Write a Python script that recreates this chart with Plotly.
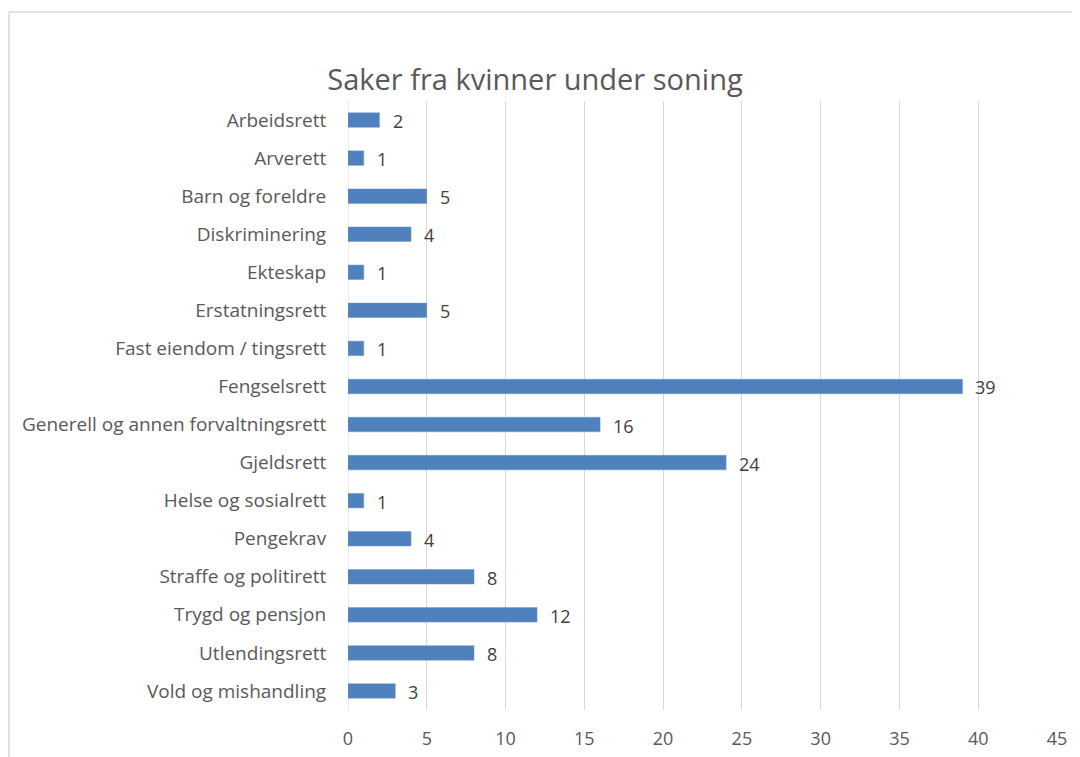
import plotly.graph_objects as go

categories = ["Arbeidsrett", "Arverett", "Barn og foreldre", "Diskriminering", "Ekteskap",
              "Erstatningsrett", "Fast eiendom / tingsrett", "Fengselsrett",
              "Generell og annen forvaltningsrett", "Gjeldsrett", "Helse og sosialrett",
              "Pengekrav", "Straffe og politirett", "Trygd og pensjon", "Utlendingsrett",
              "Vold og mishandling"]
values = [2, 1, 5, 4, 1, 5, 1, 39, 16, 24, 1, 4, 8, 12, 8, 3]
x_ticks = [0, 5, 10, 15, 20, 25, 30, 35, 40, 45]

FONT = "Open Sans"
TXT = "#595959"

# page has an 8px body margin; figure coordinates = page coordinates - 8
W, H = 1072, 749
L, R, T, B = 340, 23, 93, 47
pw, ph = W - L - R, H - T - B

def px(x):
    return (x - L) / pw

def py(y):
    return (H - B - y) / ph

fig = go.Figure(go.Bar(
    x=values, y=categories, orientation="h",
    marker=dict(color="#4f81bd", line=dict(color="#6f97c8", width=0.5)),
    hoverinfo="x+y",
))

for c, v in zip(categories, values):
    fig.add_annotation(x=v, y=c, xref="x", yref="y", text=str(v), showarrow=False,
                       xanchor="left", xshift=11, yshift=-1,
                       font=dict(family=FONT, size=18, color="#404040"))

fig.update_layout(
    width=W, height=H,
    margin=dict(l=L, r=R, t=T, b=B, pad=0),
    paper_bgcolor="white", plot_bgcolor="white",
    bargap=0.62,
    showlegend=False,
    title=dict(text="Saker fra kvinner under soning", x=527 / W, xanchor="center",
               y=1 - 72 / H, yanchor="middle", yref="container",
               font=dict(family=FONT, size=29, color=TXT), automargin=False),
    xaxis=dict(range=[0, 45], tickvals=x_ticks, showgrid=True, gridcolor="#d9d9d9",
               gridwidth=1, zeroline=False, showline=False, automargin=False,
               ticks="outside", ticklen=12, tickcolor="rgba(0,0,0,0)",
               tickfont=dict(family=FONT, size=18, color=TXT), fixedrange=True),
    yaxis=dict(autorange="reversed", showgrid=False, zeroline=False, automargin=False,
               showline=False, ticks="outside", ticklen=17, tickcolor="rgba(0,0,0,0)",
               tickfont=dict(family=FONT, size=19, color=TXT), fixedrange=True),
    shapes=[
        dict(type="line", xref="paper", yref="paper", x0=px(1), x1=px(1100),
             y0=py(4), y1=py(4), line=dict(color="#d9d9d9", width=1.5)),
        dict(type="line", xref="paper", yref="paper", x0=px(1), x1=px(1),
             y0=py(4), y1=py(800), line=dict(color="#d9d9d9", width=1.5)),
        dict(type="line", xref="x", yref="paper", x0=0, x1=0, y0=0, y1=1,
             line=dict(color="#d9d9d9", width=1), layer="below"),
    ],
)

fig.write_html("out.html")
